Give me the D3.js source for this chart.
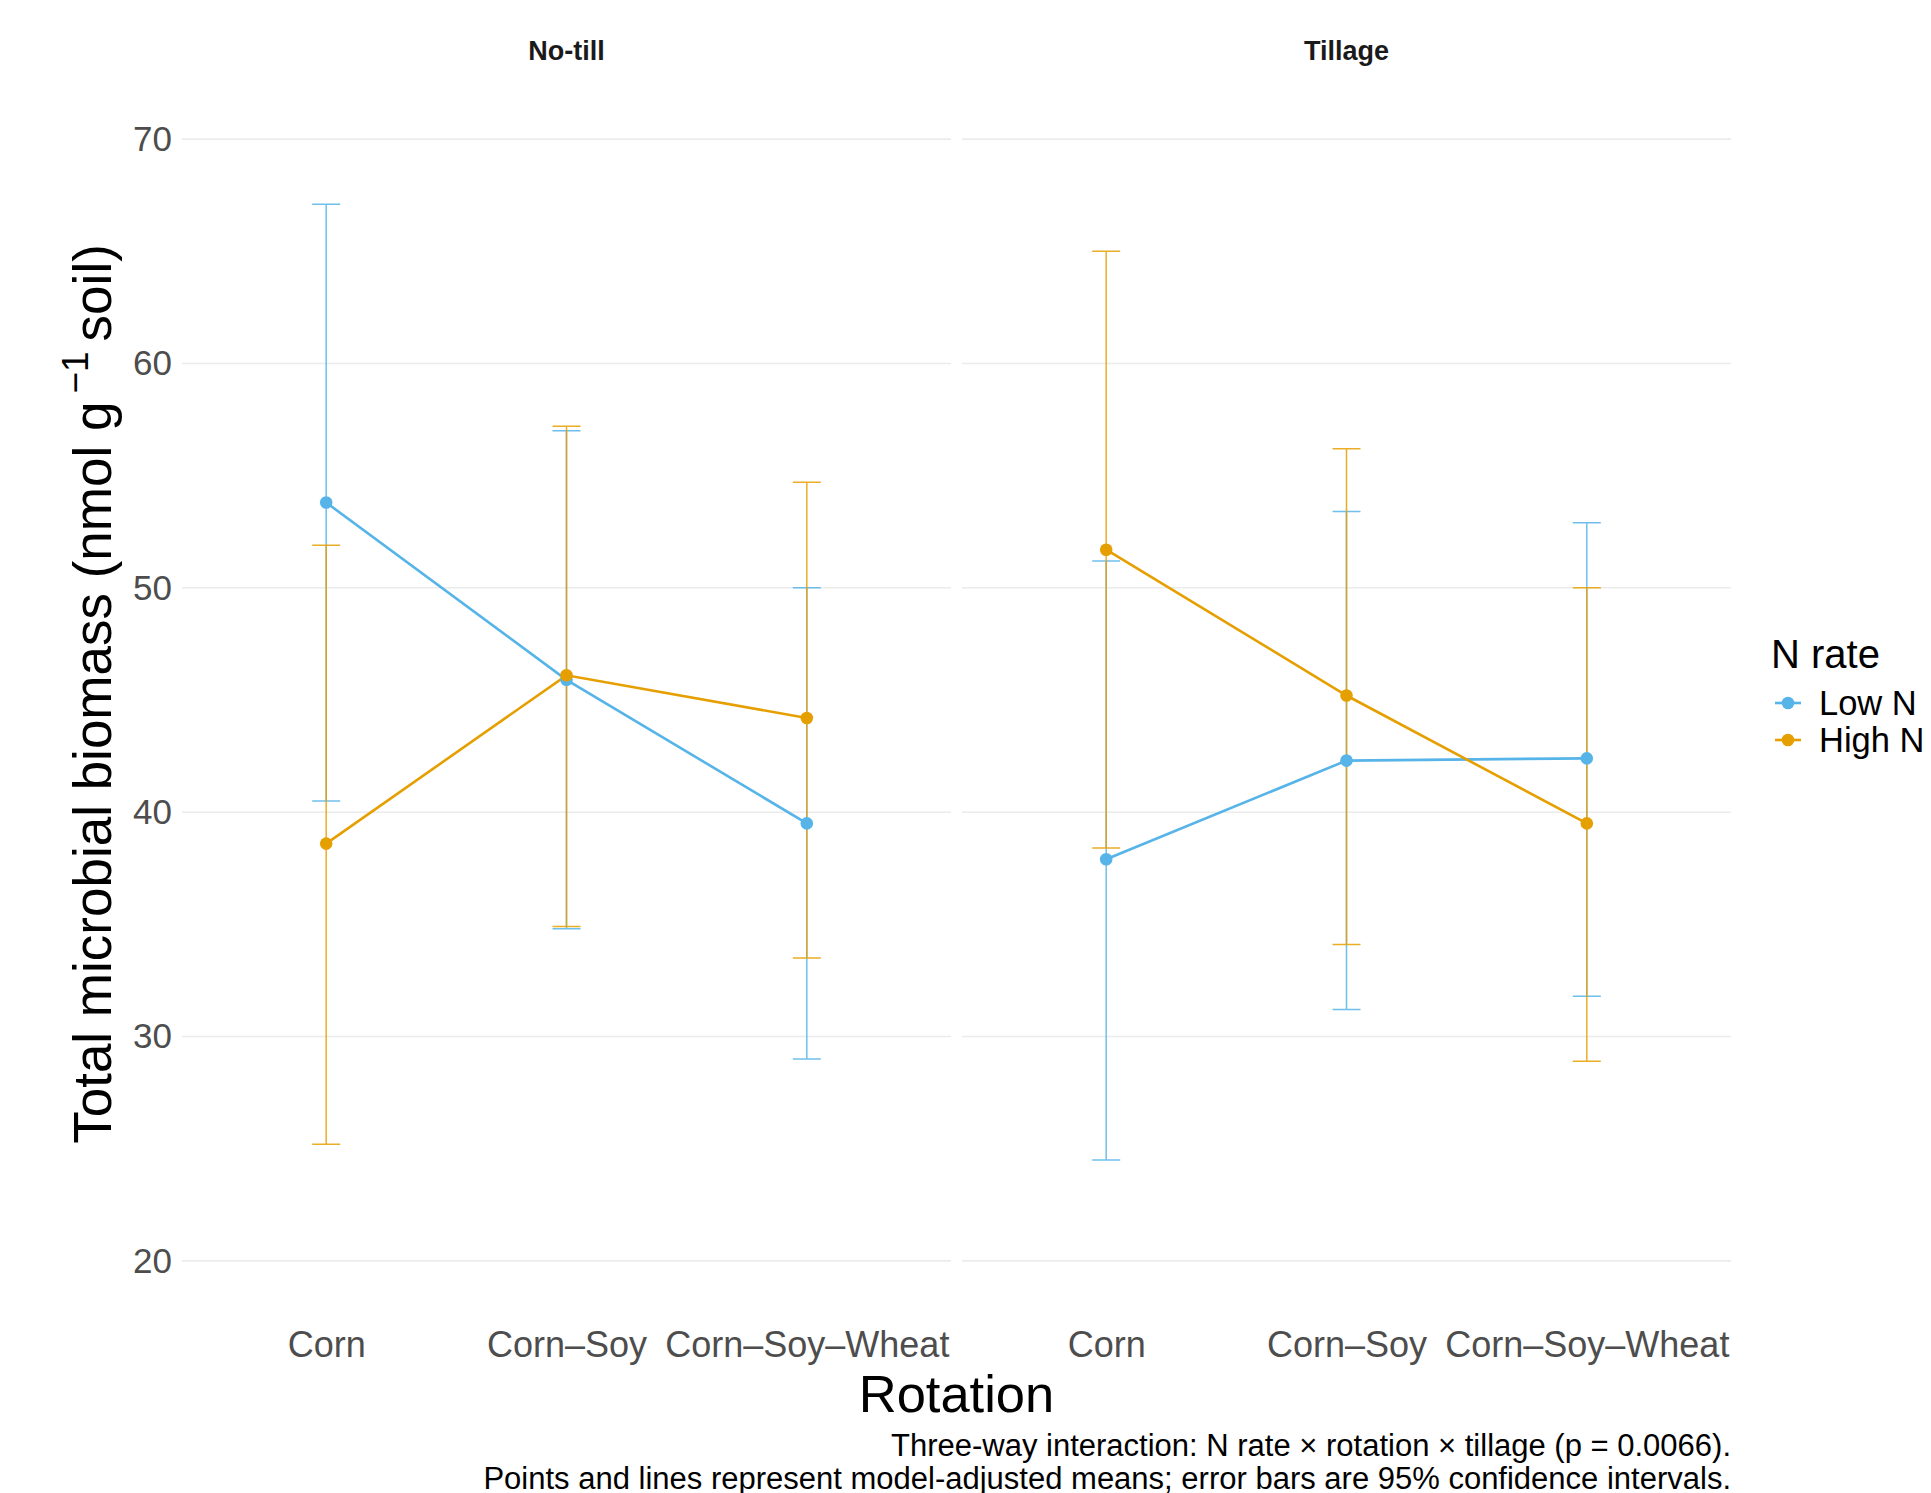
<!DOCTYPE html>
<html>
<head>
<meta charset="utf-8">
<script src="https://cdn.jsdelivr.net/npm/d3@7"></script>
<style>
  html, body { margin: 0; padding: 0; background: #fff; }
  svg { display: block; font-family: "Liberation Sans", Arial, sans-serif; }
</style>
</head>
<body>
<svg id="chart" width="1931" height="1493"></svg>
<script>
// categories
const rotations = ['Corn', 'Corn\u2013Soy', 'Corn\u2013Soy\u2013Wheat'];
const tillages = ['No-till', 'Tillage'];
const nRates = ['Low N', 'High N'];

// model-adjusted means and 95% CI, one value per rotation
const noTillLowMean = [53.8, 45.9, 39.5];
const noTillLowLower = [40.5, 34.8, 29.0];
const noTillLowUpper = [67.1, 57.0, 50.0];
const noTillHighMean = [38.6, 46.1, 44.2];
const noTillHighLower = [25.2, 34.9, 33.5];
const noTillHighUpper = [51.9, 57.2, 54.7];

const tillLowMean = [37.9, 42.3, 42.4];
const tillLowLower = [24.5, 31.2, 31.8];
const tillLowUpper = [51.2, 53.4, 52.9];
const tillHighMean = [51.7, 45.2, 39.5];
const tillHighLower = [38.4, 34.1, 28.9];
const tillHighUpper = [65.0, 56.2, 50.0];

const yTicks = [20, 30, 40, 50, 60, 70];

const caption = [
    'Three-way interaction: N rate \u00d7 rotation \u00d7 tillage (p = 0.0066).',
    'Points and lines represent model-adjusted means; error bars are 95% confidence intervals.'
];

// build series from the arrays
function series(tillage, rate, mean, lower, upper) {
    return {
        tillage, rate,
        values: rotations.map((r, i) => ({ rotation: r, mean: mean[i], lower: lower[i], upper: upper[i] }))
    };
}
const allSeries = [
    series('No-till', 'Low N', noTillLowMean, noTillLowLower, noTillLowUpper),
    series('No-till', 'High N', noTillHighMean, noTillHighLower, noTillHighUpper),
    series('Tillage', 'Low N', tillLowMean, tillLowLower, tillLowUpper),
    series('Tillage', 'High N', tillHighMean, tillHighLower, tillHighUpper),
];

const color = d3.scaleOrdinal().domain(nRates).range(['#56B4E9', '#E69F00']);

const panelLeft = 182;
const panelWidth = 769;
const panelGap = 11;
const panelTop = 83;
const panelBottom = 1317;
const capHalf = 14;

const svg = d3.select('#chart');

const y = d3.scaleLinear()
    .domain([17.5, 72.5])
    .range([panelBottom, panelTop]);

const line = d3.line()
    .x(d => d.x)
    .y(d => y(d.mean));

tillages.forEach((tillage, pi) => {
    const x0 = panelLeft + pi * (panelWidth + panelGap);
    const x = d3.scalePoint()
        .domain(rotations)
        .range([x0, x0 + panelWidth])
        .padding(0.6);

    const panel = svg.append('g').classed('panel', true);

    // grid
    panel.append('g')
        .selectAll('line')
        .data(yTicks)
        .join('line')
        .attr('x1', x0)
        .attr('x2', x0 + panelWidth)
        .attr('y1', d => y(d))
        .attr('y2', d => y(d))
        .attr('stroke', '#ebebeb')
        .attr('stroke-width', 1.6);

    // strip title
    panel.append('text')
        .attr('x', x0 + panelWidth / 2)
        .attr('y', 51)
        .attr('dy', '0.35em')
        .attr('text-anchor', 'middle')
        .attr('font-weight', 'bold')
        .attr('font-size', 27)
        .attr('fill', '#1a1a1a')
        .text(tillage);

    // x axis
    const xAxis = panel.append('g')
        .attr('transform', `translate(0,${ panelBottom })`)
        .call(d3.axisBottom(x).tickSize(0).tickPadding(0));
    xAxis.select('.domain').remove();
    xAxis.selectAll('text')
        .attr('y', 14)
        .attr('dy', '0.71em')
        .attr('font-size', 36)
        .attr('font-family', '"Liberation Sans", Arial, sans-serif')
        .attr('fill', '#4d4d4d');

    const rows = allSeries.filter(s => s.tillage === tillage)
        .map(s => ({ ...s, values: s.values.map(v => ({ ...v, x: x(v.rotation) })) }));

    // error bars
    const bars = panel.append('g')
        .selectAll('g')
        .data(rows)
        .join('g')
        .attr('stroke', d => color(d.rate))
        .attr('stroke-opacity', 0.85)
        .attr('stroke-width', 1.5)
        .attr('fill', 'none');
    bars.selectAll('path')
        .data(d => d.values)
        .join('path')
        .attr('d', d => `M ${ d.x - capHalf },${ y(d.upper) } H ${ d.x + capHalf } M ${ d.x },${ y(d.upper) } V ${ y(d.lower) } M ${ d.x - capHalf },${ y(d.lower) } H ${ d.x + capHalf }`);

    // mean lines
    panel.append('g')
        .selectAll('path')
        .data(rows)
        .join('path')
        .attr('fill', 'none')
        .attr('stroke', d => color(d.rate))
        .attr('stroke-width', 2.6)
        .attr('d', d => line(d.values));

    // points
    panel.append('g')
        .selectAll('g')
        .data(rows)
        .join('g')
        .attr('fill', d => color(d.rate))
        .selectAll('circle')
        .data(d => d.values)
        .join('circle')
        .attr('cx', d => d.x)
        .attr('cy', d => y(d.mean))
        .attr('r', 6.3);
});

// y axis labels
const yAxis = svg.append('g')
    .attr('transform', `translate(${ panelLeft },0)`)
    .call(d3.axisLeft(y).tickValues(yTicks).tickSize(0).tickPadding(10));
yAxis.select('.domain').remove();
yAxis.selectAll('text')
    .attr('font-size', 35)
    .attr('font-family', '"Liberation Sans", Arial, sans-serif')
    .attr('fill', '#4d4d4d');

// axis titles
const plotRight = panelLeft + 2 * panelWidth + panelGap;
svg.append('text')
    .attr('x', (panelLeft + plotRight) / 2)
    .attr('y', 1412)
    .attr('text-anchor', 'middle')
    .attr('font-size', 52.5)
    .text('Rotation');

const yTitle = svg.append('text')
    .attr('transform', `translate(111,${ (panelTop + panelBottom) / 2 - 6 }) rotate(-90)`)
    .attr('text-anchor', 'middle')
    .attr('font-size', 53);
yTitle.append('tspan').text('Total microbial biomass (nmol g');
yTitle.append('tspan').attr('font-size', 37).attr('dy', -23).attr('dx', 8).text('\u22121');
yTitle.append('tspan').attr('dy', 23).attr('dx', 10).text('soil)');

// legend
const legend = svg.append('g').attr('transform', 'translate(1771,0)');
legend.append('text')
    .attr('x', 0)
    .attr('y', 668)
    .attr('font-size', 40)
    .text('N rate');
const keys = legend.selectAll('g.key')
    .data(nRates)
    .join('g')
    .classed('key', true)
    .attr('transform', (d, i) => `translate(0,${ 703 + i * 37 })`);
keys.append('line')
    .attr('x1', 4).attr('x2', 30)
    .attr('stroke', d => color(d))
    .attr('stroke-width', 2.6);
keys.append('circle')
    .attr('cx', 17)
    .attr('r', 6.3)
    .attr('fill', d => color(d));
keys.append('text')
    .attr('x', 48)
    .attr('dy', '0.35em')
    .attr('font-size', 34.5)
    .text(d => d);

// caption
svg.append('g')
    .selectAll('text')
    .data(caption)
    .join('text')
    .attr('x', plotRight)
    .attr('y', (d, i) => 1456 + i * 33)
    .attr('text-anchor', 'end')
    .attr('font-size', 31)
    .text(d => d);
</script>
</body>
</html>
